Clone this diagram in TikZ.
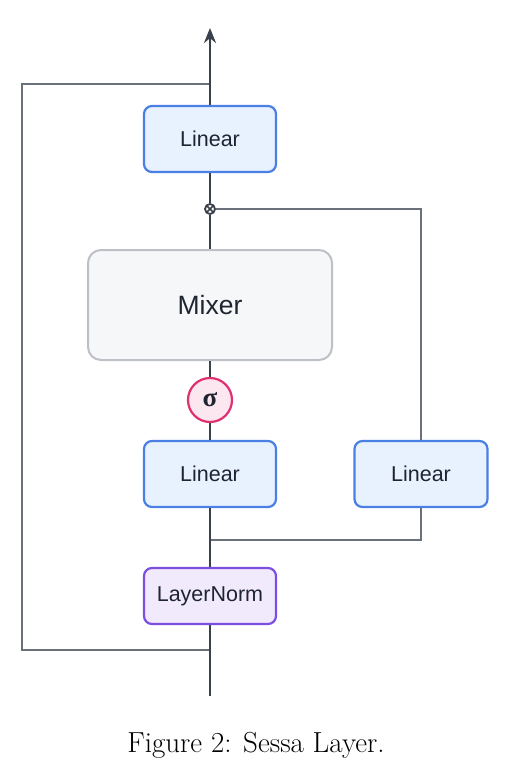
\documentclass[tikz,border=0pt]{standalone}
\usepackage{fontspec}
\newfontfamily\lblfont{Liberation Sans}
\newfontfamily\sigfont{Liberation Serif}
\usetikzlibrary{arrows.meta,calc}
\definecolor{spinec}{HTML}{3A414C}
\definecolor{skipc}{HTML}{6B717A}
\definecolor{bluec}{HTML}{4A7FE3}
\definecolor{bluef}{HTML}{E8F1FE}
\definecolor{grayc}{HTML}{BDC0C6}
\definecolor{grayf}{HTML}{F6F7F9}
\definecolor{pinkc}{HTML}{E0306F}
\definecolor{pinkf}{HTML}{FCE6EF}
\definecolor{purpc}{HTML}{7C4FE0}
\definecolor{purpf}{HTML}{F1EAFD}
\definecolor{textc}{HTML}{1E2430}
\tikzset{
  linbox/.style={draw=bluec, fill=bluef, line width=2.2pt, rounded corners=8pt,
    minimum width=132pt, minimum height=66pt, inner sep=0pt,
    font=\lblfont\fontsize{21.5}{24}\selectfont, text=textc},
  mixbox/.style={draw=grayc, fill=grayf, line width=2pt, rounded corners=13pt,
    minimum width=244pt, minimum height=110pt, inner sep=0pt,
    font=\lblfont\fontsize{26.5}{30}\selectfont, text=textc},
  lnbox/.style={draw=purpc, fill=purpf, line width=2.2pt, rounded corners=8pt,
    minimum width=132pt, minimum height=56pt, inner sep=0pt,
    font=\lblfont\fontsize{21.5}{24}\selectfont, text=textc},
  sigbox/.style={circle, draw=pinkc, fill=pinkf, line width=2.2pt,
    minimum size=44pt, inner sep=0pt, font=\sigfont\bfseries\fontsize{27}{30}\selectfont, text=textc},
  mulbox/.style={circle, draw=spinec, fill=white, line width=1.8pt,
    minimum size=10pt, inner sep=0pt},
  spine/.style={draw=spinec, line width=2.8pt},
  skip/.style={draw=skipc, line width=2.4pt},
}
\begin{document}
\begin{tikzpicture}[x=1pt, y=-1pt]
\useasboundingbox (0,0) rectangle (511,774);
\fill[white] (0,0) rectangle (511,774);

% coordinates
\coordinate (in) at (210,696);
\coordinate (out) at (210,28);
\coordinate (sb) at (210,650);
\coordinate (st) at (210,84);
\coordinate (slb) at (22,650);
\coordinate (slt) at (22,84);
\coordinate (jn) at (210,540);
\coordinate (jr) at (421,540);
\coordinate (rc) at (421,209);

% skip connection
\draw[skip] (sb) -- (slb) -- (slt) -- (st);

% nodes
\node[lnbox] (ln) at (210,596) {LayerNorm};
\node[linbox] (lin2) at (210,474) {Linear};
\node[linbox, minimum width=133pt] (linr) at (421,474) {Linear};
\node[sigbox] (sig) at (210,400) {σ};
\node[mixbox] (mix) at (210,305) {Mixer};
\node[mulbox] (mul) at (210,209) {};
\node[linbox] (lin1) at (210,139) {Linear};

% right branch
\draw[skip] (jn) -- (jr) -- (linr.south);
\draw[skip] (linr.north) -- (rc) -- (mul.east);

% spine
\draw[spine] (in) -- (ln.south);
\draw[spine] (ln.north) -- (lin2.south);
\draw[spine] (lin2.north) -- (sig.south);
\draw[spine] (sig.north) -- (mix.south);
\draw[spine] (mix.north) -- (mul.south);
\draw[spine] (mul.north) -- (lin1.south);
\draw[spine, -{Stealth[length=15pt, width=12pt]}] (lin1.north) -- (out);

% cross in multiply node
\draw[draw=spinec, line width=1.5pt] ($(mul.center)+(-3.2,-3.2)$) -- ($(mul.center)+(3.2,3.2)$);
\draw[draw=spinec, line width=1.5pt] ($(mul.center)+(-3.2,3.2)$) -- ($(mul.center)+(3.2,-3.2)$);

% caption
\node (cap) at (256,745) {\fontsize{29}{34}\selectfont Figure 2: Sessa Layer.};
\end{tikzpicture}
\end{document}
